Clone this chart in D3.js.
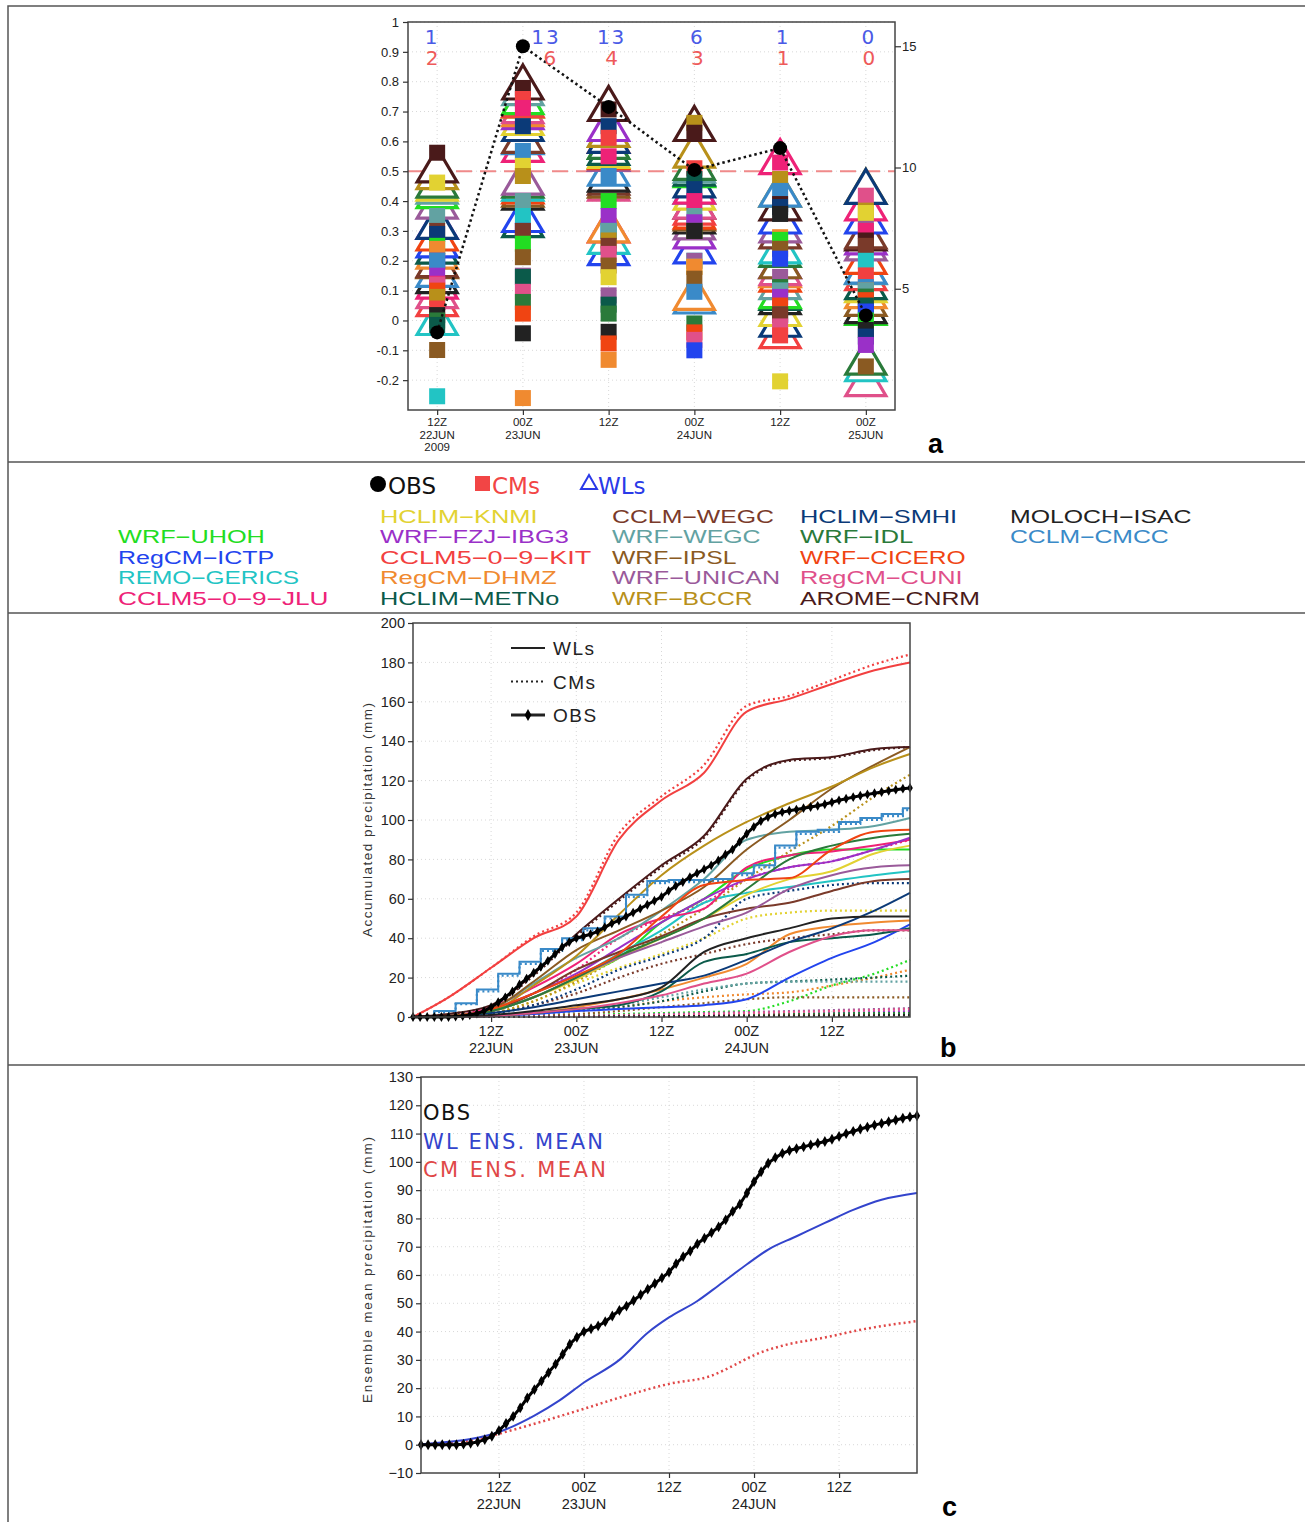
<!DOCTYPE html>
<html><head><meta charset="utf-8">
<script src="https://cdn.jsdelivr.net/npm/d3@7"></script>
<style>body{margin:0;background:#fff;} svg text{font-family:"Liberation Sans",Arial,sans-serif;}</style>
</head><body>
<svg id="chart" width="1305" height="1522"></svg>
<script>
// ---------------- DATA ----------------
const models = ["WRF-UHOH","RegCM-ICTP","REMO-GERICS","CCLM5-0-9-JLU","HCLIM-KNMI","WRF-FZJ-IBG3","CCLM5-0-9-KIT","RegCM-DHMZ","HCLIM-METNo","CCLM-WEGC","WRF-WEGC","WRF-IPSL","WRF-UNICAN","WRF-BCCR","HCLIM-SMHI","WRF-IDL","WRF-CICERO","RegCM-CUNI","AROME-CNRM","MOLOCH-ISAC","CCLM-CMCC"];
const modelColors = ["#22dd22","#2244ee","#22c4c4","#ee2277","#e2d232","#9a30c8","#f24040","#f08a30","#0b5a4a","#7a3a2a","#62a2a2","#8a5a22","#9a5a9a","#b8901a","#0b3a78","#2a7a3a","#f04412","#e0508a","#4a1a1a","#222222","#3a8ac8"];

// panel a: time categories
const timeLabels = [["12Z","22JUN","2009"],["00Z","23JUN"],["12Z"],["00Z","24JUN"],["12Z"],["00Z","25JUN"]];
const wlCountAbove = [1,13,13,6,1,0];
const cmCountAbove = [2,6,4,3,1,0];
const obsA = [3.2,15.0,12.5,9.9,10.8,3.9];
// scores per model (6 times) — WL (triangles) and CM (squares)
const wlScore = [
 [0.435,0.75,0.60,0.505,0.10,0.044],
 [0.27,0.355,0.244,0.25,0.35,0.35],
 [0.01,0.46,0.282,0.45,0.25,-0.145],
 [0.132,0.59,0.32,0.45,0.549,0.394],
 [0.46,0.68,0.57,0.43,0.04,0.12],
 [0.332,0.70,0.66,0.30,0.20,0.28],
 [0.073,0.74,0.62,0.38,-0.034,0.16],
 [0.232,0.71,0.32,0.094,0.17,0.10],
 [0.249,0.338,0.58,0.51,0.094,0.13],
 [0.204,0.62,0.48,0.40,0.30,0.30],
 [0.45,0.78,0.64,0.52,0.13,0.18],
 [0.20,0.44,0.47,0.36,0.20,0.074],
 [0.40,0.48,0.56,0.33,0.32,0.26],
 [0.499,0.738,0.64,0.571,0.44,0.449],
 [0.332,0.66,0.62,0.471,0.004,0.449],
 [0.47,0.47,0.60,0.53,0.238,-0.123],
 [0.293,0.451,0.566,0.366,0.155,0.215],
 [0.10,0.72,0.46,0.40,0.177,-0.195],
 [0.521,0.799,0.727,0.66,0.394,0.293],
 [0.15,0.43,0.49,0.35,0.08,0.05],
 [0.171,0.616,0.51,0.082,0.44,0.182]
];
const cmScore = [
 [0.25,0.257,0.40,0.30,0.27,0.0],
 [0.20,0.30,0.30,-0.10,0.207,0.03],
 [-0.254,0.35,0.30,0.20,0.10,0.20],
 [0.123,0.712,0.55,0.40,0.529,0.30],
 [0.462,0.518,0.145,0.18,-0.204,0.36],
 [0.15,0.30,0.35,0.329,0.079,-0.082],
 [0.04,0.742,0.612,0.51,-0.05,0.151],
 [0.24,-0.26,-0.132,0.179,0.279,0.10],
 [-0.015,0.146,0.053,0.474,0.02,0.05],
 [0.30,0.30,0.25,0.30,0.018,0.25],
 [0.35,0.40,0.30,0.35,0.10,0.10],
 [-0.099,0.212,0.184,0.14,0.24,-0.154],
 [0.20,0.15,0.084,0.20,0.146,0.307],
 [0.079,0.484,0.268,0.662,0.474,0.368],
 [0.29,0.651,0.651,0.44,0.38,-0.054],
 [0.0,0.062,0.023,-0.01,0.112,0.08],
 [0.10,0.023,-0.077,-0.04,0.05,0.068],
 [0.12,0.096,0.223,-0.065,-0.02,0.418],
 [0.562,0.779,0.707,0.629,0.39,0.268],
 [0.018,-0.043,-0.038,0.30,0.357,-0.032],
 [0.20,0.568,0.484,0.096,0.434,0.112]
];

// panel b: accumulated precipitation (mm) at knot hours (hours since 00Z 22JUN)
const knotHours = [1,6,12,18,24,30,36,42,48,54,60,66,71];
const wlAccum = [
 [0,0.3,3,10,20,30,48,60,75,82,85,85,85],
 [0,0,0.5,1.5,3,4,5,6,9,20,30,38,47],
 [0,0.3,3,10,20,32,44,58,63,66,69,72,74],
 [0,0.5,5,15,27,42,50,55,76,82,84,87,90],
 [0,0.3,3,10,19,30,40,50,62,70,74,83,87],
 [0,0.5,4,12,22,35,48,60,70,76,79,85,91],
 [0,10,25,40,51,90,110,124,155,161.5,169,176,180],
 [0,0,0.5,2,5,9,14,20,27,42,46,48,49],
 [0,0,0.5,2,4,6,13,28,32,38,40,42,45],
 [0,0.5,3,12,24,33,41,50,55,58,64,69,70],
 [0,0.5,4,17,30,40,54,70,90,94,95,97,101],
 [0,0.5,4,18,34,44,54,66,85,100,116,128,137],
 [0,0.3,3,10,20,30,38,46,53,65,72,76,77],
 [0,0.5,3,16,31,52,72,87,99,108.5,117,127,133.5],
 [0,0.2,2,5,9,13,17,21,29,38,45,54,63],
 [0,0.3,3,10,20,31,40,50,65,80,87,91,93],
 [0,0.3,4,12,21,32,51,67,69.5,70.5,85,94,95],
 [0,0,0.5,2,4,7,11,17,22,33,41,44,44],
 [0,1.5,6,22,42,60,77,92,121,130.5,132,136,137],
 [0,0.2,1,3,6,9,15,33,40,45,50,51,51],
 null
];
const cmAccum = [
 [0,0,0.2,0.5,1,1.5,2,2.5,3,8,16,22,29],
 [0,0,0,0.1,0.2,0.3,0.4,0.5,0.6,0.7,0.8,0.9,1],
 [0,0,0,0.1,0.2,0.3,0.4,0.5,0.6,0.7,0.8,0.9,1],
 [0,0.5,4,12,24,40,50,58,70,76,79,85,90],
 [0,0.3,2,8,17,25,32,40,50,53,54,54,54],
 [0,0,0,0.2,0.4,0.6,0.8,1,1.2,1.5,2,2.5,3],
 [0,10,25,41,53,93,112,128,158,163,171,179,184],
 [0,0,0.3,1,3,5,8,10,11.5,12.5,16,20,24],
 [0,0,0.3,1,3,5,8,13,17,18,19,20,21],
 [0,0.3,2,6,12,20,27,32,37,40,42,44,44],
 [0,0,0.3,1,3,6,10,14,17,18,18,18,18],
 [0,0,0.2,0.5,1.5,3,5,7,9,10,10,10,10],
 [0,0,0,0.2,0.5,1,1.5,2,2.5,3,3.5,4,4.5],
 [0,0.3,2,8,18,30,42,55,70,84,97,112,123],
 [0,0.2,1.5,6,14,24,31,40,60,64,67,68,68],
 [0,0,0,0.2,0.3,0.5,0.7,1,1.2,1.5,1.8,2,2],
 [0,0,0,0.1,0.2,0.3,0.4,0.5,0.6,0.7,0.8,0.9,1],
 [0,0,0,0.2,0.5,0.8,1,1.5,2,2.5,3,3.5,4],
 [0,1.5,5.5,21,41,59,76,91,120,130,131.5,135.5,137],
 [0,0,0,0.1,0.2,0.3,0.4,0.5,0.6,0.7,0.8,0.9,1],
 null
];
// CCLM-CMCC is output 3-hourly (stepped)
const cmccHours = [1,4,7,10,13,16,19,22,25,28,31,34,37,40,43,46,49,52,55,58,61,64,67,70,71];
const cmccWL = [0,3,7,14,22,28,34.5,40,45,51,62,69,69.5,69.5,70,73,77,87,94,95,99,101,103,106,106];
const cmccCM = [0,2.5,6.5,13,21,27,33.5,39,44,50,61,68,68.5,68.5,69,72,76,86,93,94,98,100,102,105,105];

// observations (hourly accumulated, mm), hours 1..71
const obsHours = d3.range(1,72);
const obsAccum = [0,0,0,0,0,0,0.2,0.5,1,1.8,3,5,7.5,10,13,16.5,19.5,22.5,25.5,28.5,32,35.5,38,40,41,42,43.5,45.5,47.5,49,51,53,55,57,59,61,64,66.5,68.5,71,73,75,77,79.5,82.5,85,89,93,96.5,99.5,101.5,103,104,104.7,105.3,106,106.6,107.2,108,109,110,110.8,111.6,112.3,113,113.6,114.2,114.8,115.4,115.9,116.3];

// panel c: ensemble means
const wlMeanHours = [1,4,8,12,17,20.5,24,29,33,36,40,43,47,50,54,58,62,66,71];
const wlMean = [0.2,0.8,2,4.5,10.3,15.6,22,30,39.6,45,50.8,56.3,63.8,69,73.7,78.4,83,86.6,89];
const cmMeanHours = [1,4,8,12,17,24,30,36,42,45.5,48.3,52,58,63.4,71];
const cmMean = [0,0.5,1.5,3.9,7.4,12.7,17.4,21.5,24.4,28.5,32,35,37.9,40.8,43.7];

const timeTickHours = [12,24,36,48,60];
const timeTickLabels = [["12Z","22JUN"],["00Z","23JUN"],["12Z"],["00Z","24JUN"],["12Z"]];

// ---------------- DRAW ----------------
const svg = d3.select("#chart");
const frameCol = "#555";

svg.append("rect").attr("x",8).attr("y",6).attr("width",1300).attr("height",1530)
  .attr("fill","none").attr("stroke",frameCol).attr("stroke-width",1.5);
[462,613,1065].forEach(y=>svg.append("line").attr("x1",8).attr("x2",1305).attr("y1",y).attr("y2",y)
  .attr("stroke",frameCol).attr("stroke-width",1.5));

function grid(g, xs, ys, x0,x1,y0,y1){
  g.selectAll(null).data(ys).enter().append("line")
    .attr("x1",x0).attr("x2",x1).attr("y1",d=>d).attr("y2",d=>d)
    .attr("stroke","#d8d8d8").attr("stroke-width",1).attr("stroke-dasharray","1,3");
  g.selectAll(null).data(xs).enter().append("line")
    .attr("y1",y0).attr("y2",y1).attr("x1",d=>d).attr("x2",d=>d)
    .attr("stroke","#d8d8d8").attr("stroke-width",1).attr("stroke-dasharray","1,3");
}
function styleAxis(g, fs){
  g.select(".domain").remove();
  g.selectAll(".tick line").attr("stroke","#333").attr("stroke-width",1.2);
  g.selectAll(".tick text").attr("fill","#222").style("font-size",fs+"px")
    .style("font-family","'Liberation Sans',Arial,sans-serif");
}

// ===== Panel a =====
const xA = d3.scaleLinear().domain([-0.34,5.34]).range([408,895]);
const yA = d3.scaleLinear().domain([-0.3,1]).range([410,22]);
const yA2 = d3.scaleLinear().domain([0,16]).range([410,22]);
const gA = svg.append("g");
const aTicks = d3.range(-2,11).map(d=>d/10);
grid(gA, d3.range(6).map(xA), aTicks.map(yA), xA.range()[0], xA.range()[1], 22, 410);
gA.append("line").attr("x1",408).attr("x2",895).attr("y1",yA(0.5)).attr("y2",yA(0.5))
  .attr("stroke","#f08a8a").attr("stroke-width",2).attr("stroke-dasharray","16,8");

const triW=40, triH=34, sq=16;
const triPath = `M0,${-triH/2}L${triW/2},${triH/2}L${-triW/2},${triH/2}Z`;
d3.range(6).forEach(t=>{
  const tri = models.map((m,i)=>({i, v:wlScore[i][t]})).sort((a,b)=>a.v-b.v);
  gA.selectAll(null).data(tri).enter().append("path")
    .attr("d",triPath)
    .attr("transform",d=>`translate(${xA(t)},${yA(d.v)})`)
    .attr("fill","#fff").attr("stroke",d=>modelColors[d.i]).attr("stroke-width",3.2);
});
d3.range(6).forEach(t=>{
  const sqs = models.map((m,i)=>({i, v:cmScore[i][t]})).sort((a,b)=>b.v-a.v);
  gA.selectAll(null).data(sqs).enter().append("rect")
    .attr("x",xA(t)-sq/2).attr("y",d=>yA(d.v)-sq/2).attr("width",sq).attr("height",sq)
    .attr("fill",d=>modelColors[d.i]);
});
gA.append("path").datum(obsA)
  .attr("d",d3.line().x((d,i)=>xA(i)).y(d=>yA2(d)))
  .attr("fill","none").attr("stroke","#111").attr("stroke-width",2.5).attr("stroke-dasharray","2.5,3");
gA.selectAll(null).data(obsA).enter().append("circle")
  .attr("cx",(d,i)=>xA(i)).attr("cy",d=>yA2(d)).attr("r",7).attr("fill","#000");
gA.selectAll(null).data(wlCountAbove).enter().append("text")
  .attr("x",(d,i)=>xA(i)+(i===1?23:(i===0?-5:3))).attr("y",44).attr("text-anchor","middle")
  .style("font-family","'DejaVu Sans',sans-serif").style("font-size","20px").attr("fill","#4a5ae6")
  .attr("letter-spacing",2).text(d=>d);
gA.selectAll(null).data(cmCountAbove).enter().append("text")
  .attr("x",(d,i)=>xA(i)+(i===1?27:(i===0?-5:3))).attr("y",65).attr("text-anchor","middle")
  .style("font-family","'DejaVu Sans',sans-serif").style("font-size","20px").attr("fill","#ee5a5a")
  .text(d=>d);
gA.append("rect").attr("x",408).attr("y",22).attr("width",487).attr("height",388)
  .attr("fill","none").attr("stroke","#444").attr("stroke-width",1.5);
const axLA = gA.append("g").attr("transform","translate(408,0)")
  .call(d3.axisLeft(yA).tickValues(aTicks).tickSize(5).tickPadding(4)
    .tickFormat(d=>String(+d.toFixed(1))));
styleAxis(axLA,13);
const axRA = gA.append("g").attr("transform","translate(895,0)")
  .call(d3.axisRight(yA2).tickValues([5,10,15]).tickSize(6).tickPadding(1));
styleAxis(axRA,13);
const axBA = gA.append("g").attr("transform","translate(0,410)")
  .call(d3.axisBottom(xA).tickValues(d3.range(6)).tickSize(5).tickFormat(""));
styleAxis(axBA,11);
timeLabels.forEach((lines,i)=>{
  lines.forEach((s,k)=>gA.append("text").attr("x",xA(i)).attr("y",426+k*12.5)
    .attr("text-anchor","middle").style("font-size","11.5px").attr("fill","#222").text(s));
});
svg.append("text").attr("x",928).attr("y",453).style("font-size","27px").style("font-weight","bold").text("a");

// ===== Legend =====
const gL = svg.append("g");
gL.append("circle").attr("cx",378).attr("cy",484).attr("r",8).attr("fill","#000");
gL.append("text").attr("x",388).attr("y",494).style("font-size","23px").style("font-family","'DejaVu Sans',sans-serif").attr("fill","#111").text("OBS");
gL.append("rect").attr("x",475).attr("y",476).attr("width",15).attr("height",15).attr("fill","#f24545");
gL.append("text").attr("x",492).attr("y",494).style("font-size","23px").style("font-family","'DejaVu Sans',sans-serif").attr("fill","#f24545").text("CMs");
gL.append("path").attr("d","M589,475L597,489L581,489Z").attr("fill","none").attr("stroke","#2a3ae8").attr("stroke-width",2);
gL.append("text").attr("x",598).attr("y",494).style("font-size","23px").style("font-family","'DejaVu Sans',sans-serif").attr("fill","#2a3ae8").text("WLs");
const colSizes=[4,5,5,5,2], colStartRow=[1,0,0,0,0], colX=[118,380,612,800,1010];
let idx=0;
colSizes.forEach((n,c)=>{
  for(let r=0;r<n;r++){
    const i=idx++;
    const label = models[i].replace(/-/g,"\u2212");
    const tmp = gL.append("text").style("font-size","24px").style("font-family","'DejaVu Sans',sans-serif").text(label);
    const w = tmp.node().getComputedTextLength();
    tmp.remove();
    gL.append("text").attr("x",colX[c]).attr("y",523+20.4*(colStartRow[c]+r))
      .style("font-size","18px").style("font-family","'Liberation Sans',Arial,sans-serif")
      .attr("textLength",w).attr("lengthAdjust","spacingAndGlyphs")
      .attr("fill",modelColors[i]).text(label);
  }
});

// ===== Panel b =====
const xB = d3.scaleLinear().domain([1,71]).range([413,910]);
const yB = d3.scaleLinear().domain([0,200]).range([1017,623]);
const gB = svg.append("g");
grid(gB, timeTickHours.map(xB), d3.range(20,200,20).map(yB), 413,910,623,1017);
const lineB = d3.line().x(d=>xB(d[0])).y(d=>yB(d[1])).curve(d3.curveMonotoneX);
const stepB = d3.line().x(d=>xB(d[0])).y(d=>yB(d[1])).curve(d3.curveStepAfter);
models.forEach((m,i)=>{
  const pts = cmAccum[i] ? knotHours.map((h,k)=>[h,cmAccum[i][k]]) : cmccHours.map((h,k)=>[h,cmccCM[k]]);
  gB.append("path").attr("d",(cmAccum[i]?lineB:stepB)(pts)).attr("fill","none")
    .attr("stroke",modelColors[i]).attr("stroke-width",2.2).attr("stroke-dasharray","2,3");
});
models.forEach((m,i)=>{
  const pts = wlAccum[i] ? knotHours.map((h,k)=>[h,wlAccum[i][k]]) : cmccHours.map((h,k)=>[h,cmccWL[k]]);
  gB.append("path").attr("d",(wlAccum[i]?lineB:stepB)(pts)).attr("fill","none")
    .attr("stroke",modelColors[i]).attr("stroke-width",2);
});
const obsPts = obsHours.map((h,k)=>[h,obsAccum[k]]);
gB.append("path").attr("d",d3.line().x(d=>xB(d[0])).y(d=>yB(d[1]))(obsPts))
  .attr("fill","none").attr("stroke","#000").attr("stroke-width",3);
gB.selectAll(null).data(obsPts).enter().append("path")
  .attr("d",d3.symbol(d3.symbolDiamond,28)).attr("transform",d=>`translate(${xB(d[0])},${yB(d[1])})`).attr("fill","#000");
gB.append("rect").attr("x",413).attr("y",623).attr("width",497).attr("height",394)
  .attr("fill","none").attr("stroke","#444").attr("stroke-width",1.5);
const axLB = gB.append("g").attr("transform","translate(413,0)")
  .call(d3.axisLeft(yB).tickValues(d3.range(0,201,20)).tickSize(5).tickPadding(3));
styleAxis(axLB,14.5);
const axBB = gB.append("g").attr("transform","translate(0,1017)")
  .call(d3.axisBottom(xB).tickValues(timeTickHours).tickSize(5).tickFormat(""));
styleAxis(axBB,14);
timeTickLabels.forEach((lines,i)=>lines.forEach((s,k)=>gB.append("text")
  .attr("x",xB(timeTickHours[i])).attr("y",1036+k*17).attr("text-anchor","middle")
  .style("font-size","14.5px").attr("fill","#222").text(s)));
gB.append("text").attr("transform","translate(372,820) rotate(-90)").attr("text-anchor","middle")
  .style("font-size","13.5px").attr("fill","#333").attr("textLength",234).attr("lengthAdjust","spacing")
  .text("Accumulated precipitation (mm)");
const legB = [{t:"WLs",dash:null},{t:"CMs",dash:"2,3"},{t:"OBS",dash:null,mk:true}];
legB.forEach((d,k)=>{
  const y = 648+k*33.5;
  gB.append("line").attr("x1",511).attr("x2",545).attr("y1",y).attr("y2",y).attr("stroke","#222")
    .attr("stroke-width",d.mk?3:2.2).attr("stroke-dasharray",d.dash);
  if(d.mk) gB.append("path").attr("d",d3.symbol(d3.symbolDiamond,40)).attr("transform",`translate(528,${y})`).attr("fill","#000");
  gB.append("text").attr("x",553).attr("y",y+7).style("font-size","19px").attr("letter-spacing",1.5)
    .attr("fill","#222").text(d.t);
});
svg.append("text").attr("x",940).attr("y",1057).style("font-size","27px").style("font-weight","bold").text("b");

// ===== Panel c =====
const xC = d3.scaleLinear().domain([1,71]).range([421,917]);
const yC = d3.scaleLinear().domain([-10,130]).range([1473,1077]);
const gC = svg.append("g");
grid(gC, timeTickHours.map(xC), d3.range(0,130,10).map(yC), 421,917,1077,1473);
const lineC = d3.line().x(d=>xC(d[0])).y(d=>yC(d[1])).curve(d3.curveMonotoneX);
gC.append("path").attr("d",lineC(cmMeanHours.map((h,k)=>[h,cmMean[k]]))).attr("fill","none")
  .attr("stroke","#e04848").attr("stroke-width",2.5).attr("stroke-dasharray","2,3");
gC.append("path").attr("d",lineC(wlMeanHours.map((h,k)=>[h,wlMean[k]]))).attr("fill","none")
  .attr("stroke","#3344cc").attr("stroke-width",2);
gC.append("path").attr("d",d3.line().x(d=>xC(d[0])).y(d=>yC(d[1]))(obsPts))
  .attr("fill","none").attr("stroke","#000").attr("stroke-width",3);
gC.selectAll(null).data(obsPts).enter().append("path")
  .attr("d",d3.symbol(d3.symbolDiamond,34)).attr("transform",d=>`translate(${xC(d[0])},${yC(d[1])})`).attr("fill","#000");
gC.append("rect").attr("x",421).attr("y",1077).attr("width",496).attr("height",396)
  .attr("fill","none").attr("stroke","#444").attr("stroke-width",1.5);
const axLC = gC.append("g").attr("transform","translate(421,0)")
  .call(d3.axisLeft(yC).tickValues(d3.range(-10,131,10)).tickSize(5).tickPadding(3)
    .tickFormat(d=>d<0?"\u2212"+Math.abs(d):d));
styleAxis(axLC,14.5);
const axBC = gC.append("g").attr("transform","translate(0,1473)")
  .call(d3.axisBottom(xC).tickValues(timeTickHours).tickSize(5).tickFormat(""));
styleAxis(axBC,14);
timeTickLabels.forEach((lines,i)=>lines.forEach((s,k)=>gC.append("text")
  .attr("x",xC(timeTickHours[i])).attr("y",1492+k*17).attr("text-anchor","middle")
  .style("font-size","14.5px").attr("fill","#222").text(s)));
gC.append("text").attr("transform","translate(372,1270) rotate(-90)").attr("text-anchor","middle")
  .style("font-size","13.5px").attr("fill","#333").attr("textLength",266).attr("lengthAdjust","spacing")
  .text("Ensemble mean precipitation (mm)");
const legC = [{t:"OBS",c:"#111",w:47},{t:"WL ENS. MEAN",c:"#3344cc",w:180},{t:"CM ENS. MEAN",c:"#e04848",w:183}];
legC.forEach((d,k)=>gC.append("text").attr("x",423).attr("y",1120+k*28.5)
  .style("font-size","21px").style("font-family","'DejaVu Sans',sans-serif")
  .attr("textLength",d.w).attr("lengthAdjust","spacing").attr("fill",d.c).text(d.t));
svg.append("text").attr("x",942).attr("y",1516).style("font-size","27px").style("font-weight","bold").text("c");
</script>
</body></html>
